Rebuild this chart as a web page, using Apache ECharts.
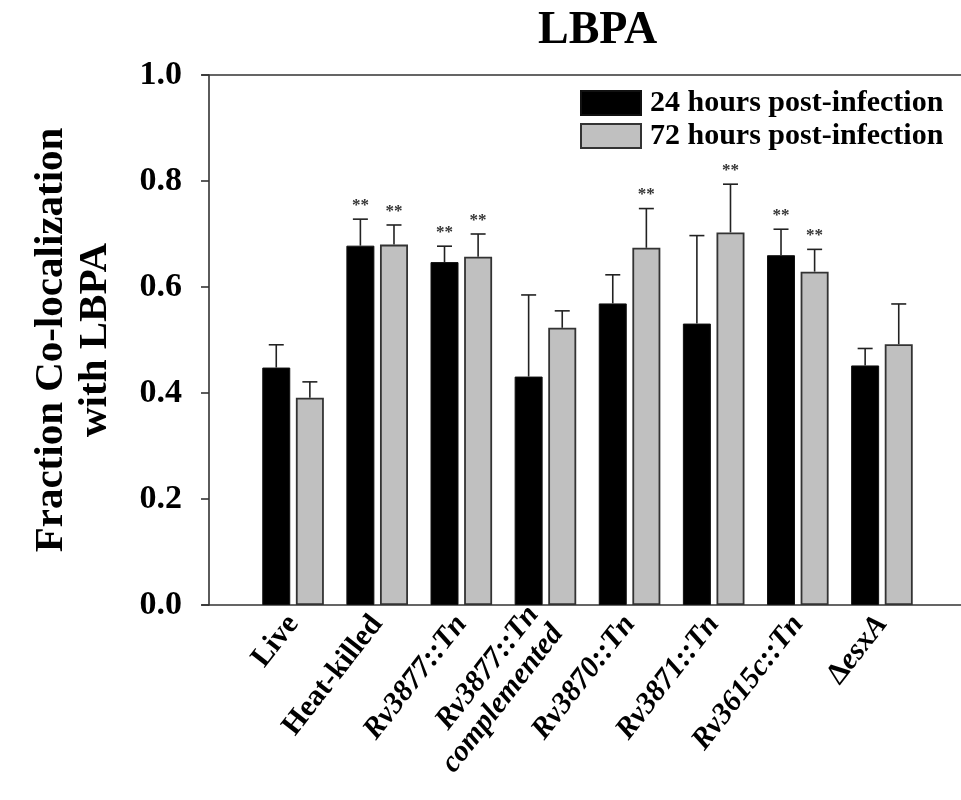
<!DOCTYPE html>
<html>
<head>
<meta charset="utf-8">
<script src="https://cdn.jsdelivr.net/npm/echarts@6/dist/echarts.min.js"></script>
<style>
  html, body { margin: 0; padding: 0; background: #fff; }
  #chart { width: 961px; height: 800px; }
</style>
</head>
<body>
<div id="chart"></div>
<script>
// data
var categories = ['Live', 'Heat-killed', 'Rv3877::Tn', 'Rv3877::Tn\ncomplemented',
                  'Rv3870::Tn', 'Rv3871::Tn', 'Rv3615c::Tn', 'ΔesxA'];
var h24 = [0.448, 0.678, 0.647, 0.431, 0.569, 0.531, 0.660, 0.452];
var h24Err = [0.043, 0.050, 0.030, 0.154, 0.054, 0.166, 0.049, 0.032];
var h72 = [0.391, 0.680, 0.657, 0.523, 0.674, 0.703, 0.629, 0.492];
var h72Err = [0.030, 0.037, 0.043, 0.032, 0.074, 0.091, 0.042, 0.076];
var sig24 = ['', '**', '**', '', '', '', '**', ''];
var sig72 = ['', '**', '**', '', '**', '**', '**', ''];
var yTicks = [0, 0.2, 0.4, 0.6, 0.8, 1.0];

var serif = "'Liberation Serif', 'Times New Roman', serif";
var uprightLabels = ['Live', 'Heat-killed'];
var BAR_W = 28;
var BAR_GAP = 0.2;
var barOffset = (BAR_W + BAR_W * BAR_GAP) / 2;

function errorSeries(name, means, errs, sigs, dx) {
    return {
        name: name,
        type: 'custom',
        xAxisIndex: 0,
        yAxisIndex: 0,
        z: 5,
        data: means.map(function (m, i) { return [i, m, m + errs[i]]; }),
        renderItem: function (params, api) {
            var x = api.coord([api.value(0), 0])[0] + dx;
            var yTop = api.coord([api.value(0), api.value(1)])[1];
            var yCap = api.coord([api.value(0), api.value(2)])[1];
            var st = { stroke: '#222', lineWidth: 1.6 };
            var kids = [
                { type: 'line', shape: { x1: x, y1: yTop, x2: x, y2: yCap }, style: st },
                { type: 'line', shape: { x1: x - 7.5, y1: yCap, x2: x + 7.5, y2: yCap }, style: st }
            ];
            var s = sigs[params.dataIndex];
            if (s) {
                kids.push({
                    type: 'text',
                    style: {
                        text: s, x: x, y: yCap - 5,
                        align: 'center', verticalAlign: 'bottom',
                        font: 'bold 17px ' + serif, fill: '#333'
                    }
                });
            }
            return { type: 'group', children: kids };
        }
    };
}

var chart = echarts.init(document.getElementById('chart'));
var option = {
    animation: false,
    backgroundColor: '#fff',
    title: {
        text: 'LBPA',
        left: 533,
        top: 3,
        textStyle: { fontFamily: serif, fontSize: 46, fontWeight: 'bold', color: '#000' }
    },
    legend: {
        data: ['24 hours post-infection', '72 hours post-infection'],
        orient: 'vertical',
        left: 575,
        top: 83,
        icon: 'rect',
        itemWidth: 60,
        itemHeight: 24,
        itemGap: 3,
        textStyle: { fontFamily: serif, fontSize: 30, fontWeight: 'bold', color: '#000', padding: [0, 0, 0, 4] }
    },
    grid: [
        { left: 251, right: 37, top: 75, bottom: 195, outerBoundsMode: 'none' },
        { left: 202, right: 0, top: 75, bottom: 195, outerBoundsMode: 'none' }
    ],
    xAxis: [
        {
            type: 'category',
            gridIndex: 0,
            data: categories,
            axisLine: { show: false },
            axisTick: { show: false },
            axisLabel: {
                rotate: 52,
                margin: 14,
                interval: 0,
                formatter: function (v) {
                    return v.split('\n').map(function (line) {
                        if (line.charAt(0) === 'Δ') return '{b|Δ}{i|' + line.slice(1) + '}';
                        if (uprightLabels.indexOf(line) >= 0) return '{b|' + line + '}';
                        return '{i|' + line + '}';
                    }).join('\n');
                },
                rich: {
                    b: { fontFamily: serif, fontSize: 30, fontWeight: 'bold', color: '#000', lineHeight: 31 },
                    i: { fontFamily: serif, fontSize: 30, fontWeight: 'bold', fontStyle: 'italic', color: '#000', lineHeight: 31 }
                }
            }
        },
        {
            type: 'value', gridIndex: 1, position: 'bottom', min: 0, max: 1,
            axisLine: { show: true, lineStyle: { color: '#333', width: 1.6 } },
            axisTick: { show: false }, axisLabel: { show: false }, splitLine: { show: false }
        },
        {
            type: 'value', gridIndex: 1, position: 'top', min: 0, max: 1,
            axisLine: { show: true, lineStyle: { color: '#333', width: 1.6 } },
            axisTick: { show: false }, axisLabel: { show: false }, splitLine: { show: false }
        }
    ],
    yAxis: [
        {
            type: 'value',
            gridIndex: 0,
            min: yTicks[0],
            max: yTicks[yTicks.length - 1],
            interval: 0.2,
            offset: 42,
            name: 'Fraction Co-localization\nwith LBPA',
            nameLocation: 'middle',
            nameRotate: 90,
            nameGap: 92,
            nameMoveOverlap: false,
            nameTextStyle: { fontFamily: serif, fontSize: 41, fontWeight: 'bold', color: '#000', lineHeight: 44 },
            axisLine: { show: true, lineStyle: { color: '#333', width: 1.6 } },
            axisTick: { show: true, length: 8, lineStyle: { color: '#333', width: 1.6 } },
            axisLabel: {
                margin: 27,
                fontFamily: serif, fontSize: 34, fontWeight: 'bold', color: '#000',
                formatter: function (v) { return v.toFixed(1); }
            },
            splitLine: { show: false }
        },
        { type: 'value', gridIndex: 1, min: 0, max: 1, show: false }
    ],
    series: [
        {
            name: '24 hours post-infection',
            type: 'bar',
            xAxisIndex: 0, yAxisIndex: 0,
            data: h24,
            barWidth: BAR_W,
            barGap: (BAR_GAP * 100) + '%',
            itemStyle: { color: '#000', borderColor: '#111', borderWidth: 1 }
        },
        {
            name: '72 hours post-infection',
            type: 'bar',
            xAxisIndex: 0, yAxisIndex: 0,
            data: h72,
            barWidth: BAR_W,
            itemStyle: { color: '#c0c0c0', borderColor: '#333', borderWidth: 1.8 }
        },
        errorSeries('err24', h24, h24Err, sig24, -barOffset),
        errorSeries('err72', h72, h72Err, sig72, barOffset)
    ]
};
chart.setOption(option);
</script>
</body>
</html>
